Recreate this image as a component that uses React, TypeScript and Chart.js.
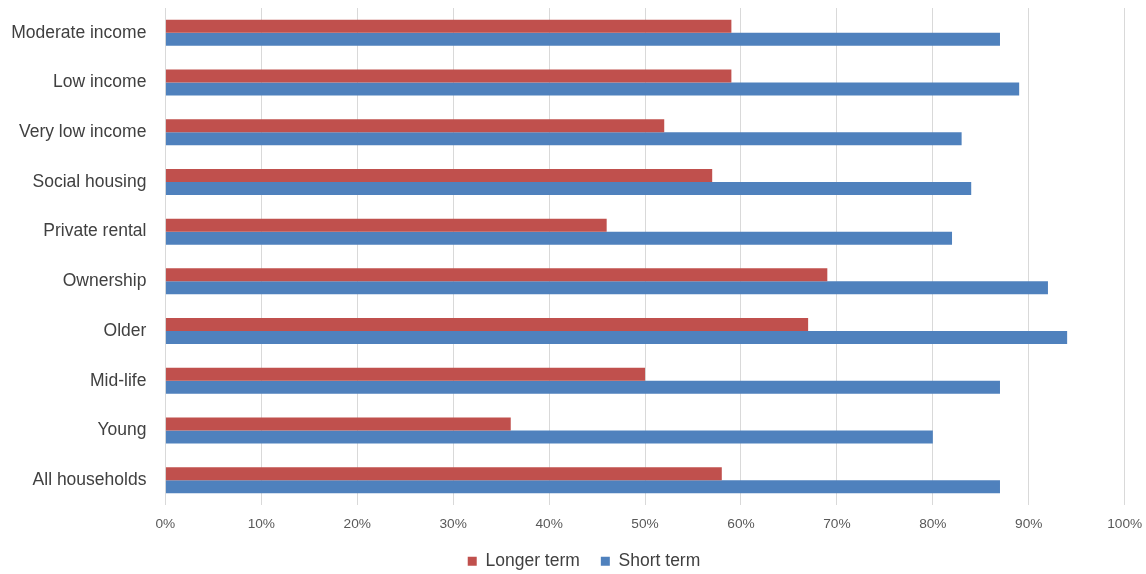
import React, { useEffect, useRef } from 'react';
import { Chart, registerables } from 'chart.js';

Chart.register(...registerables);

const categories = [
  'Moderate income',
  'Low income',
  'Very low income',
  'Social housing',
  'Private rental',
  'Ownership',
  'Older',
  'Mid-life',
  'Young',
  'All households',
];
const longerTerm = [59, 59, 52, 57, 46, 69, 67, 50, 36, 58];
const shortTerm = [87, 89, 83, 84, 82, 92, 94, 87, 80, 87];
const seriesNames = ['Longer term', 'Short term'];
const xTickValues = [0, 10, 20, 30, 40, 50, 60, 70, 80, 90, 100];

const FONT = "'Liberation Sans', Arial, sans-serif";

const layoutTweak = {
  id: 'layoutTweak',
  afterLayout(chart: any) {
    const l = chart.legend;
    if (l) {
      l.top += 6;
      l.bottom += 6;
      l.left += 11;
      l.right += 11;
    }
    const x = chart.scales.x;
    if (x) {
      x.bottom += 30;
      x.height += 30;
    }
  },
};

export default function App() {
  const ref = useRef<HTMLCanvasElement | null>(null);
  useEffect(() => {
    if (!ref.current) return;
    const chart = new Chart(ref.current, {
      type: 'bar',
      data: {
        labels: categories,
        datasets: [
          {
            label: seriesNames[0],
            data: longerTerm,
            backgroundColor: '#C0504D',
            borderWidth: 0,
            categoryPercentage: 0.523,
            barPercentage: 1,
          },
          {
            label: seriesNames[1],
            data: shortTerm,
            backgroundColor: '#4F81BD',
            borderWidth: 0,
            categoryPercentage: 0.523,
            barPercentage: 1,
          },
        ],
      },
      plugins: [layoutTweak],
      options: {
        indexAxis: 'y',
        animation: false,
        responsive: true,
        maintainAspectRatio: false,
        layout: { padding: { top: 8, left: 0, right: 0, bottom: 0 } },
        plugins: {
          tooltip: { enabled: false },
          legend: {
            position: 'bottom',
            labels: {
              boxWidth: 9,
              boxHeight: 9,
              padding: 21,
              color: '#404040',
              font: { family: FONT, size: 17.5 },
            },
          },
        },
        scales: {
          x: {
            min: 0,
            max: 100,
            afterBuildTicks: (scale: any) => {
              scale.ticks = xTickValues.map((v) => ({ value: v }));
            },
            afterFit: (scale: any) => {
              scale.height = 20.5;
              scale.paddingRight = 21.3;
              scale.paddingLeft = 0;
            },
            grid: { color: '#D9D9D9', lineWidth: 1, drawTicks: false },
            border: { display: false },
            ticks: {
              padding: 11,
              color: '#595959',
              font: { family: FONT, size: 13.7 },
              maxRotation: 0,
              callback: (v: any) => v + '%',
            },
          },
          y: {
            afterFit: (scale: any) => {
              scale.width = 165.4;
              scale.paddingTop = 0;
              scale.paddingBottom = 0;
            },
            grid: { display: false, drawTicks: false },
            border: { display: false },
            ticks: {
              padding: 19,
              color: '#404040',
              font: { family: FONT, size: 17.5 },
            },
          },
        },
      },
    } as any);
    return () => chart.destroy();
  }, []);
  return (
    <div style={{ position: 'absolute', left: 0, top: 0, width: 1146, height: 574 }}>
      <canvas ref={ref} />
    </div>
  );
}
